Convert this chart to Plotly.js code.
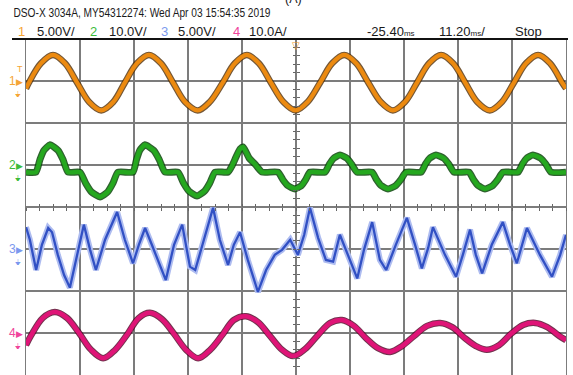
<!DOCTYPE html>
<html>
<head>
<meta charset="utf-8">
<script src="https://cdn.plot.ly/plotly-3.0.1.min.js"></script>
<style>
html,body{margin:0;padding:0;background:#fff;}
#chart{width:573px;height:375px;}
</style>
</head>
<body>
<div id="chart"></div>
<script>
// ---- Data (time in ms, values in V / A) ----
const T1 = [-81.4,-80.8,-78.3,-75.8,-73.3,-70.8,-68.3,-65.8,-63.3,-60.9,-58.4,-55.9,-53.4,-50.9,-48.4,-45.8,-43.3,-40.6,-38.1,-35.6,-33.1,-30.6,-28.0,-25.5,-23.0,-20.4,-17.9,-15.4,-12.9,-10.4,-7.8,-5.3,-2.8,-0.3,2.2,4.7,7.2,9.7,12.2,14.8,17.3,19.8,22.3,24.8,27.3,29.8,30.6];
const V1 = [-0.9,-0.2,2.1,3.1,2.1,-0.2,-2.5,-3.5,-2.5,-0.2,2.1,3.1,2.1,-0.2,-2.5,-3.5,-2.5,-0.2,2.1,3.1,2.1,-0.2,-2.5,-3.5,-2.5,-0.2,2.1,3.1,2.1,-0.2,-2.5,-3.5,-2.5,-0.2,2.1,3.1,2.1,-0.2,-2.5,-3.5,-2.5,-0.2,2.1,3.1,2.1,-0.2,-0.9];

const T2 = [-81.4,
  -79.33,-78.50,-77.67,-76.42,-74.76,-73.73,-72.69,
  -70.20,-69.00,-67.84,-66.05,-64.45,-63.40,-62.32,
  -59.21,-58.48,-57.80,-56.72,-54.93,-53.77,-52.57,
  -49.87,-48.73,-47.63,-45.93,-44.34,-43.28,-42.20,
  -39.50,-38.67,-37.84,-37.01,-36.39,-35.77,-35.15,-33.90,-32.45,
  -29.13,-28.12,-27.12,-25.61,-24.26,-23.39,-22.50,
  -19.38,-18.47,-17.60,-16.27,-14.84,-13.87,-12.75,
  -9.64,-8.68,-7.75,-6.32,-4.72,-3.66,-2.59,
  0.53,1.44,2.31,3.64,5.24,6.29,7.37,
  10.48,11.44,12.37,13.80,15.40,16.45,17.53,
  20.64,21.55,22.42,23.75,25.35,26.41,27.49,
  30.6];
const V2 = [-1.7,
  -1.7,1.3,3.5,4.8,3.5,1.3,-1.7,
  -1.7,-4.4,-6.4,-7.6,-6.4,-4.4,-1.7,
  -1.7,1.3,3.5,4.8,3.5,1.3,-1.7,
  -1.7,-4.3,-6.2,-7.4,-6.2,-4.3,-1.7,
  -1.7,-0.2,1.9,3.8,4.3,3.1,1.7,0.2,-1.7,
  -1.7,-3.5,-4.9,-5.7,-4.9,-3.5,-1.7,
  -1.7,0.2,1.6,2.4,1.6,0.2,-1.7,
  -1.7,-3.5,-4.9,-5.7,-4.9,-3.5,-1.7,
  -1.7,0.2,1.6,2.4,1.6,0.2,-1.7,
  -1.7,-3.5,-4.9,-5.7,-4.9,-3.5,-1.7,
  -1.7,0.2,1.6,2.4,1.6,0.2,-1.7,
  -1.7];

const T3 = [-81.4,-80.6,-79.3,-78.1,-76.8,-76.0,-74.8,-73.5,-72.3,-70.8,-69.4,-68.1,-66.9,-65.0,-62.5,-60.9,-59.2,-58.0,-56.7,-55.3,-53.6,-52.4,-50.7,-49.0,-47.4,-46.3,-44.5,-42.6,-41.2,-39.5,-38.3,-37.0,-35.4,-33.3,-31.6,-29.8,-28.3,-26.6,-25.0,-23.7,-22.5,-20.8,-19.2,-17.7,-16.3,-14.6,-12.7,-11.3,-9.6,-8.0,-6.7,-4.7,-2.4,-0.7,0.7,2.0,3.0,5.5,7.8,9.2,10.7,11.9,13.2,15.2,17.5,19.0,20.4,21.5,22.5,25.2,27.7,29.4,30.6];
const V3 = [2.6,1.1,-2.5,0.5,2.5,2.0,-0.7,-3.1,-4.6,-0.7,2.9,-0.1,-2.5,1.1,4.4,1.1,-1.7,0.5,2.5,0.5,-1.9,-3.7,0.5,2.9,-2.1,-2.5,1.1,4.9,1.1,-1.9,0.5,2.0,-1.3,-5.1,-2.5,-0.7,-0.1,1.1,-0.7,1.7,4.9,1.3,-1.3,-1.5,1.7,-0.7,-3.5,-0.1,3.2,-1.3,-2.5,0.5,3.7,0.5,-2.3,0.1,2.6,-0.7,-3.3,-0.7,2.3,-0.7,-2.9,0.5,3.2,0.5,-1.7,0.5,2.5,-0.7,-3.3,-0.7,1.7];

const T4 = [-81.4,-80.4,-77.9,-75.4,-72.9,-70.4,-67.9,-65.4,-62.9,-60.5,-58.0,-55.7,-53.2,-50.7,-48.2,-45.7,-43.2,-40.7,-38.3,-35.8,-33.3,-30.8,-28.3,-26.0,-23.5,-21.0,-18.3,-15.9,-13.4,-10.9,-8.4,-5.9,-3.4,-0.9,1.8,4.5,7.0,9.4,11.9,14.2,16.7,19.2,21.7,24.2,26.7,29.2,30.6];
const A4 = [-2.9,-0.7,3.6,5.0,3.6,0.0,-4.0,-6.0,-4.0,-0.5,3.6,4.8,3.3,-0.2,-4.0,-6.0,-4.0,-0.5,3.1,4.0,2.6,-0.7,-4.0,-5.5,-3.8,-0.7,2.4,3.1,1.7,-1.2,-3.6,-4.5,-3.1,-0.7,1.7,2.4,1.4,-1.0,-3.1,-4.0,-2.9,-0.2,1.9,2.4,1.4,-0.7,-1.7];

// Scope settings
const chLabels = ['1','2','3','4'];
const chScales = ['5.00V/','10.0V/','5.00V/','10.0A/'];
const chColors = ['#f5a536','#3dbb3a','#7b98ee','#f0449b'];
const headerText = 'DSO-X 3034A, MY54312274: Wed Apr 03 15:54:35 2019';
const delayText = '-25.40';
const timebaseText = '11.20';
const runState = 'Stop';

const FONT = '"Liberation Sans", Arial, sans-serif';

function wave(t, v, yax, halo, hw, core, cw, smooth) {
  const shape = smooth ? 'spline' : 'linear';
  return [
    {x:t, y:v, yaxis:yax, type:'scatter', mode:'lines', hoverinfo:'skip',
     line:{color:halo, width:hw, shape:shape, smoothing:smooth||0}},
    {x:t, y:v, yaxis:yax, type:'scatter', mode:'lines', hoverinfo:'skip',
     line:{color:core, width:cw, shape:shape, smoothing:smooth||0}}
  ];
}

const traces = [].concat(
  wave(T1, V1, 'y',  'rgba(80,45,5,0.8)', 6.5, '#ec8a10', 4.2, 1.0),
  wave(T2, V2, 'y2', 'rgba(10,70,10,0.85)', 7, '#25a81f', 4.5, 0.5),
  wave(T3, V3, 'y3', '#aebcf0', 6, '#3150c4', 2.3, 0),
  wave(T4, A4, 'y4', 'rgba(80,0,35,0.8)', 6.5, '#df1477', 4.5, 1.0),
  // dummy traces so the centre-line tick axes get drawn
  [{x:[null], y:[null], xaxis:'x2', yaxis:'y', hoverinfo:'skip', showlegend:false},
   {x:[null], y:[null], xaxis:'x3', yaxis:'y', hoverinfo:'skip', showlegend:false},
   {x:[null], y:[null], xaxis:'x', yaxis:'y5', hoverinfo:'skip', showlegend:false},
   {x:[null], y:[null], xaxis:'x', yaxis:'y6', hoverinfo:'skip', showlegend:false}]
);

const XR = [-81.4, 30.6];
const GRID = '#7c7c7c';
const baseX = {range:XR, tick0:-81.4, dtick:11.2, showgrid:true, gridcolor:GRID, gridwidth:1.2,
  zeroline:false, showticklabels:false, ticks:'', showline:true, linecolor:GRID, linewidth:1.2, mirror:true, fixedrange:true};
const baseY = {range:[-35,5], tick0:-35, dtick:5, showgrid:true, gridcolor:GRID, gridwidth:1.2,
  zeroline:false, showticklabels:false, ticks:'', showline:true, linecolor:GRID, linewidth:1.2, mirror:true, fixedrange:true};
const tickAx = (o) => Object.assign({showgrid:false, zeroline:false, showticklabels:false, showline:false,
  tickcolor:'#666', tickwidth:1, fixedrange:true, anchor:'free', position:0.5}, o);

// paper coords helpers (plot area 540 x 336 starting at 26,39)
const px = (p) => (p - 26) / 540;
const py = (p) => (375 - p) / 336;

const ann = [];
ann.push({xref:'paper', yref:'paper', x:px(142), y:py(13), xanchor:'center', yanchor:'middle', showarrow:false,
  text:headerText, font:{family:FONT, size:12.5, color:'#1a1a1a'}});
ann.push({xref:'paper', yref:'paper', x:px(283), y:py(-1), xanchor:'left', yanchor:'middle', showarrow:false,
  text:'(A)', font:{family:FONT, size:12.5, color:'#1a1a1a'}});
const numX = [16, 88, 159, 231];
const sclX = [35, 107, 176, 247];
for (let i = 0; i < 4; i++) {
  ann.push({xref:'paper', yref:'paper', x:px(numX[i]), y:py(31), xanchor:'left', yanchor:'middle', showarrow:false,
    text:chLabels[i], font:{family:FONT, size:13, color:chColors[i]}});
  ann.push({xref:'paper', yref:'paper', x:px(sclX[i]), y:py(31), xanchor:'left', yanchor:'middle', showarrow:false,
    text:chScales[i], font:{family:FONT, size:13, color:'#1a1a1a'}});
}
ann.push({xref:'paper', yref:'paper', x:px(365), y:py(31), xanchor:'left', yanchor:'middle', showarrow:false,
  text:delayText + "<span style='font-size:8px'>ms</span>", font:{family:FONT, size:13, color:'#1a1a1a'}});
ann.push({xref:'paper', yref:'paper', x:px(437), y:py(31), xanchor:'left', yanchor:'middle', showarrow:false,
  text:timebaseText + "<span style='font-size:8px'>ms</span>/", font:{family:FONT, size:13, color:'#1a1a1a'}});
ann.push({xref:'paper', yref:'paper', x:px(513), y:py(31), xanchor:'left', yanchor:'middle', showarrow:false,
  text:runState, font:{family:FONT, size:13, color:'#1a1a1a'}});

// channel ground markers on the left
const markRefs = ['y','y2','y3','y4'];
for (let i = 0; i < 4; i++) {
  ann.push({xref:'paper', yref:markRefs[i], x:0, y:0, xanchor:'right', yanchor:'middle', xshift:-1, showarrow:false,
    text:chLabels[i] + "<span style='font-size:9px'>▶</span>", font:{family:FONT, size:12, color:chColors[i]}});
  ann.push({xref:'paper', yref:markRefs[i], x:0, y:0, xanchor:'right', yanchor:'top', xshift:-3, yshift:-7, showarrow:false,
    text:'⏚', font:{family:'DejaVu Sans', size:8, color:chColors[i]}});
}
// trigger level marker for channel 1
ann.push({xref:'paper', yref:'y', x:0, y:0, xanchor:'right', yanchor:'bottom', xshift:-1, yshift:5, showarrow:false,
  text:'T', font:{family:FONT, size:9, color:chColors[0]}});
// trigger position marker at top centre
ann.push({xref:'x', yref:'paper', x:-25.4, y:1, xanchor:'center', yanchor:'top', yshift:1, showarrow:false,
  text:'▽', font:{family:'DejaVu Sans', size:10, color:'#f39a1c'}});

const layout = {
  width:573, height:375,
  margin:{l:26, r:7, t:39, b:0, pad:0},
  paper_bgcolor:'#ffffff', plot_bgcolor:'#ffffff',
  showlegend:false,
  xaxis: baseX,
  yaxis: baseY,
  yaxis2:{range:[-50,30], overlaying:'y', visible:false, fixedrange:true},
  yaxis3:{range:[-15,25], overlaying:'y', visible:false, fixedrange:true},
  yaxis4:{range:[-10,70], overlaying:'y', visible:false, fixedrange:true},
  xaxis2: tickAx({overlaying:'x', range:XR, tick0:-81.4, dtick:2.8, ticks:'inside', ticklen:3}),
  xaxis3: tickAx({overlaying:'x', range:XR, tick0:-81.4, dtick:2.8, ticks:'outside', ticklen:3}),
  yaxis5: tickAx({overlaying:'y', range:[-35,5], tick0:-35, dtick:1, ticks:'inside', ticklen:3}),
  yaxis6: tickAx({overlaying:'y', range:[-35,5], tick0:-35, dtick:1, ticks:'outside', ticklen:3}),
  shapes:[{type:'line', xref:'paper', yref:'paper', x0:px(12), x1:px(568), y0:1, y1:1,
    line:{color:'#111', width:2}}],
  annotations: ann
};

Plotly.newPlot('chart', traces, layout, {displayModeBar:false, staticPlot:true}).then(function(){
  // the scope uses a narrow font for its header line: fit it to the same width
  const t = document.querySelectorAll('#chart .annotation-text')[0];
  if (t) {
    t.setAttribute('textLength', '257');
    t.setAttribute('lengthAdjust', 'spacingAndGlyphs');
  }
});
</script>
</body>
</html>
